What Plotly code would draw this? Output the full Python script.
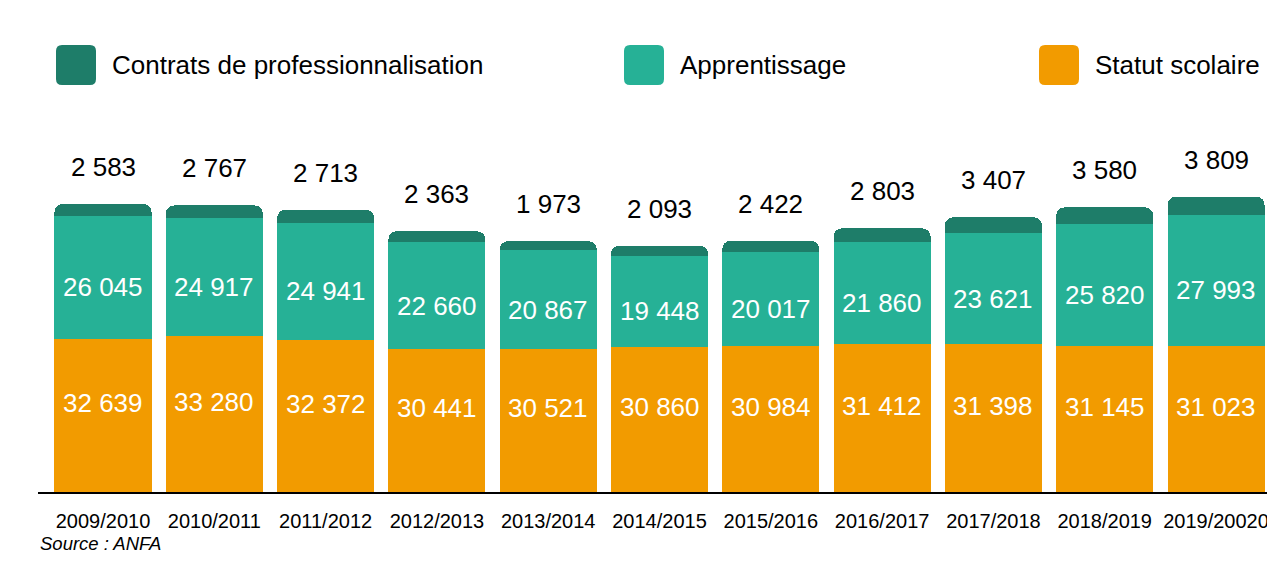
import plotly.graph_objects as go

# data
annees = ["2009/2010", "2010/2011", "2011/2012", "2012/2013", "2013/2014", "2014/2015",
          "2015/2016", "2016/2017", "2017/2018", "2018/2019", "2019/20020"]
statut_scolaire = [32639, 33280, 32372, 30441, 30521, 30860, 30984, 31412, 31398, 31145, 31023]
apprentissage = [26045, 24917, 24941, 22660, 20867, 19448, 20017, 21860, 23621, 25820, 27993]
contrats_pro = [2583, 2767, 2713, 2363, 1973, 2093, 2422, 2803, 3407, 3580, 3809]

noms = ["Statut scolaire", "Apprentissage", "Contrats de professionnalisation"]
couleurs = ["#f29b00", "#26b196", "#1e7d69"]

FONT = "Liberation Sans, Arial, sans-serif"
W, H = 1267, 563
ML, MR, MT, MB = 38, 0, 100, 71

def fmt(v):
    return f"{v:,}".replace(",", " ")

fig = go.Figure()
for vals, nom, col in zip([statut_scolaire, apprentissage, contrats_pro], noms, couleurs):
    fig.add_trace(go.Bar(
        x=annees, y=vals, name=nom, marker=dict(color=col, line=dict(width=0)),
        hoverinfo="x+y+name",
    ))

# white labels inside the two big segments
for x, s, a in zip(annees, statut_scolaire, apprentissage):
    fig.add_annotation(x=x, y=s / 2, text=fmt(s), showarrow=False, yshift=12,
                       font=dict(size=26, color="white", family=FONT))
    fig.add_annotation(x=x, y=s + a / 2, text=fmt(a), showarrow=False, yshift=-10,
                       font=dict(size=26, color="white", family=FONT))

# labels above each stack (value of the pro contracts)
totaux = [a + b + c for a, b, c in zip(statut_scolaire, apprentissage, contrats_pro)]
for x, t, v in zip(annees, totaux, contrats_pro):
    fig.add_annotation(x=x, y=t, text=fmt(v), showarrow=False, yanchor="bottom", yshift=20,
                       font=dict(size=26, color="black", family=FONT))

# hand-made legend (big rounded squares)
pw = W - ML - MR
ph = H - MT - MB
def px(xp):
    return (xp - ML) / pw
def py(yp):
    return (H - MB - yp) / ph

def rounded(x0, y0, x1, y1, r=6):
    rx, ry = r / pw, r / ph
    X0, X1, Y0, Y1 = px(x0), px(x1), py(y1), py(y0)
    return (f"M {X0+rx},{Y0} L {X1-rx},{Y0} Q {X1},{Y0} {X1},{Y0+ry} L {X1},{Y1-ry} "
            f"Q {X1},{Y1} {X1-rx},{Y1} L {X0+rx},{Y1} Q {X0},{Y1} {X0},{Y1-ry} "
            f"L {X0},{Y0+ry} Q {X0},{Y0} {X0+rx},{Y0} Z")

legende = [(56, noms[2], couleurs[2]), (624, noms[1], couleurs[1]), (1039, noms[0], couleurs[0])]
for x0, nom, col in legende:
    fig.add_shape(type="path", path=rounded(x0, 45, x0 + 40, 85), xref="paper", yref="paper",
                  fillcolor=col, line=dict(width=0))
    fig.add_annotation(x=px(x0 + 54), y=py(65), xref="paper", yref="paper", text=nom,
                       showarrow=False, xanchor="left", yanchor="middle",
                       font=dict(size=26, color="black", family=FONT))

fig.add_annotation(x=0, y=py(543), xref="paper", yref="paper", text="<i>Source : ANFA</i>",
                   showarrow=False, xanchor="left", yanchor="middle",
                   font=dict(size=18.5, color="black", family=FONT))

fig.update_layout(
    width=W, height=H,
    margin=dict(l=ML, r=MR, t=MT, b=MB),
    barmode="stack", bargap=0.128, barcornerradius=8,
    plot_bgcolor="white", paper_bgcolor="white",
    showlegend=False,
    font=dict(family=FONT, color="black"),
    xaxis=dict(range=[-0.584, 10.458], showgrid=False, showline=True, linecolor="black",
               linewidth=2, ticks="", ticklabelstandoff=10, automargin=False,
               tickfont=dict(size=20, color="black", family=FONT)),
    yaxis=dict(range=[0, ph / 0.0047], visible=False, showgrid=False),
)

# no body margin, no scrollbars: the figure fills the window exactly
fig.write_html("out.html", config={"displayModeBar": False},
               post_script="document.body.style.margin='0';document.body.style.overflow='hidden';")
